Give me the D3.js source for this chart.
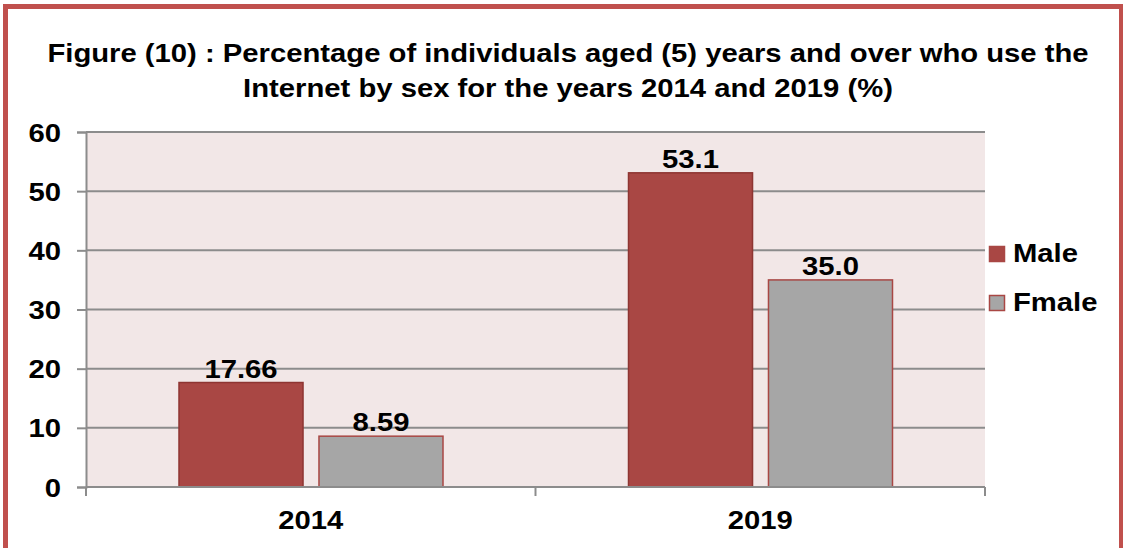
<!DOCTYPE html>
<html>
<head>
<meta charset="utf-8">
<script src="https://cdn.jsdelivr.net/npm/d3@7"></script>
<style>
  body { margin: 0; background: #fff; }
  svg { display: block; font-family: Arial, "Liberation Sans", sans-serif; }
</style>
</head>
<body>
<svg id="chart" width="1123" height="548"></svg>
<script>
// data
let years = ["2014", "2019"];
let seriesNames = ["Male", "Fmale"];
let maleValues = [17.66, 53.1];
let femaleValues = [8.59, 35.0];
let valueLabels = [["17.66", "8.59"], ["53.1", "35.0"]];
let yTicks = [0, 10, 20, 30, 40, 50, 60];
let titleLines = [
    "Figure (10) : Percentage of individuals aged (5) years and over who use the",
    "Internet by sex for the years 2014 and 2019 (%)"
];

let svg = d3.select("#chart");
let width = 1123, height = 548;
let margin = {left: 86, right: 138, top: 132, bottom: 61};
let colors = {Male: "#a94744", Fmale: "#a6a6a6"};
let strokes = {Male: "#8e3532", Fmale: "#a94744"};
let stretch = 1.17;   // the original text is a bit wide

// put a text at (x,y) with the horizontal stretch
function place(sel, fx, fy) {
    sel.attr("transform", (d, i) => "translate(" + fx(d, i) + "," + fy(d, i) + ") scale(" + stretch + ",1)")
        .style("font-size", "25px")
        .style("font-weight", "bold")
        .attr("fill", "#000");
}

// outer frame
svg.append("rect")
    .attr("x", 5.5).attr("y", 6.5)
    .attr("width", 1116).attr("height", 560)
    .attr("fill", "#fff")
    .attr("stroke", "#c0504d")
    .attr("stroke-width", 5);

// title
svg.append("g").selectAll("text")
    .data(titleLines)
    .join("text")
    .attr("text-anchor", "middle")
    .text(d => d)
    .call(place, () => 568, (d, i) => 62 + i * 35);

let x0 = d3.scaleBand()
    .domain(years)
    .range([margin.left, width - margin.right]);

let x1 = d3.scaleBand()
    .domain(seriesNames)
    .range([93, 357])
    .paddingInner(0.114);

let y = d3.scaleLinear()
    .domain([0, 60])
    .range([height - margin.bottom, margin.top]);

// plot area
svg.append("rect")
    .attr("x", margin.left).attr("y", margin.top)
    .attr("width", width - margin.right - margin.left)
    .attr("height", y(0) - margin.top)
    .attr("fill", "#f2e7e7");

// y axis
let yAxis = svg.append("g")
    .attr("transform", "translate(" + margin.left + ",0)")
    .call(d3.axisLeft(y).tickValues(yTicks).tickSize(9).tickPadding(16));
yAxis.select(".domain").attr("stroke", "#8c8c8c").attr("stroke-width", 2);
yAxis.selectAll(".tick line").attr("stroke", "#8c8c8c").attr("stroke-width", 2);
yAxis.selectAll(".tick text")
    .attr("x", null).attr("dy", "0.36em")
    .call(place, () => -25, () => 0);

// gridlines
svg.append("g").selectAll("line")
    .data(yTicks.filter(d => d > 0))
    .join("line")
    .attr("x1", margin.left).attr("x2", width - margin.right)
    .attr("y1", d => y(d)).attr("y2", d => y(d))
    .attr("stroke", "#8c8c8c").attr("stroke-width", 2);

// bars
let rows = years.map((yr, i) => ({
    year: yr,
    vals: [
        {s: "Male", v: maleValues[i], label: valueLabels[i][0]},
        {s: "Fmale", v: femaleValues[i], label: valueLabels[i][1]}
    ]
}));

let groups = svg.append("g").selectAll("g")
    .data(rows)
    .join("g")
    .attr("transform", d => "translate(" + x0(d.year) + ",0)");

groups.selectAll("rect")
    .data(d => d.vals)
    .join("rect")
    .attr("x", d => x1(d.s))
    .attr("y", d => y(d.v))
    .attr("width", x1.bandwidth())
    .attr("height", d => y(0) - y(d.v))
    .attr("fill", d => colors[d.s])
    .attr("stroke", d => strokes[d.s])
    .attr("stroke-width", 1.5);

groups.selectAll("text")
    .data(d => d.vals)
    .join("text")
    .attr("text-anchor", "middle")
    .text(d => d.label)
    .call(place, d => x1(d.s) + x1.bandwidth() / 2, d => y(d.v) - 5);

// x axis
let xAxis = svg.append("g")
    .attr("transform", "translate(0," + y(0) + ")");
xAxis.append("line")
    .attr("x1", margin.left).attr("x2", width - margin.right)
    .attr("stroke", "#8c8c8c").attr("stroke-width", 2);
let bounds = [margin.left].concat(years.map(d => x0(d) + x0.bandwidth()));
xAxis.selectAll(".xt")
    .data(bounds)
    .join("line")
    .attr("x1", d => d).attr("x2", d => d)
    .attr("y1", 0).attr("y2", 9)
    .attr("stroke", "#8c8c8c").attr("stroke-width", 2);
xAxis.selectAll("text")
    .data(years)
    .join("text")
    .attr("text-anchor", "middle")
    .text(d => d)
    .call(place, d => x0(d) + x0.bandwidth() / 2, () => 42);

// legend
let legend = svg.append("g").attr("transform", "translate(989,246)");
let entry = legend.selectAll("g")
    .data(seriesNames)
    .join("g")
    .attr("transform", (d, i) => "translate(0," + i * 49 + ")");
entry.append("rect")
    .attr("x", 0.5).attr("y", 0.5)
    .attr("width", 15).attr("height", 15)
    .attr("fill", d => colors[d])
    .attr("stroke", "#a94744").attr("stroke-width", 1.5);
entry.append("text")
    .text(d => d)
    .call(place, () => 24, () => 16);
</script>
</body>
</html>
